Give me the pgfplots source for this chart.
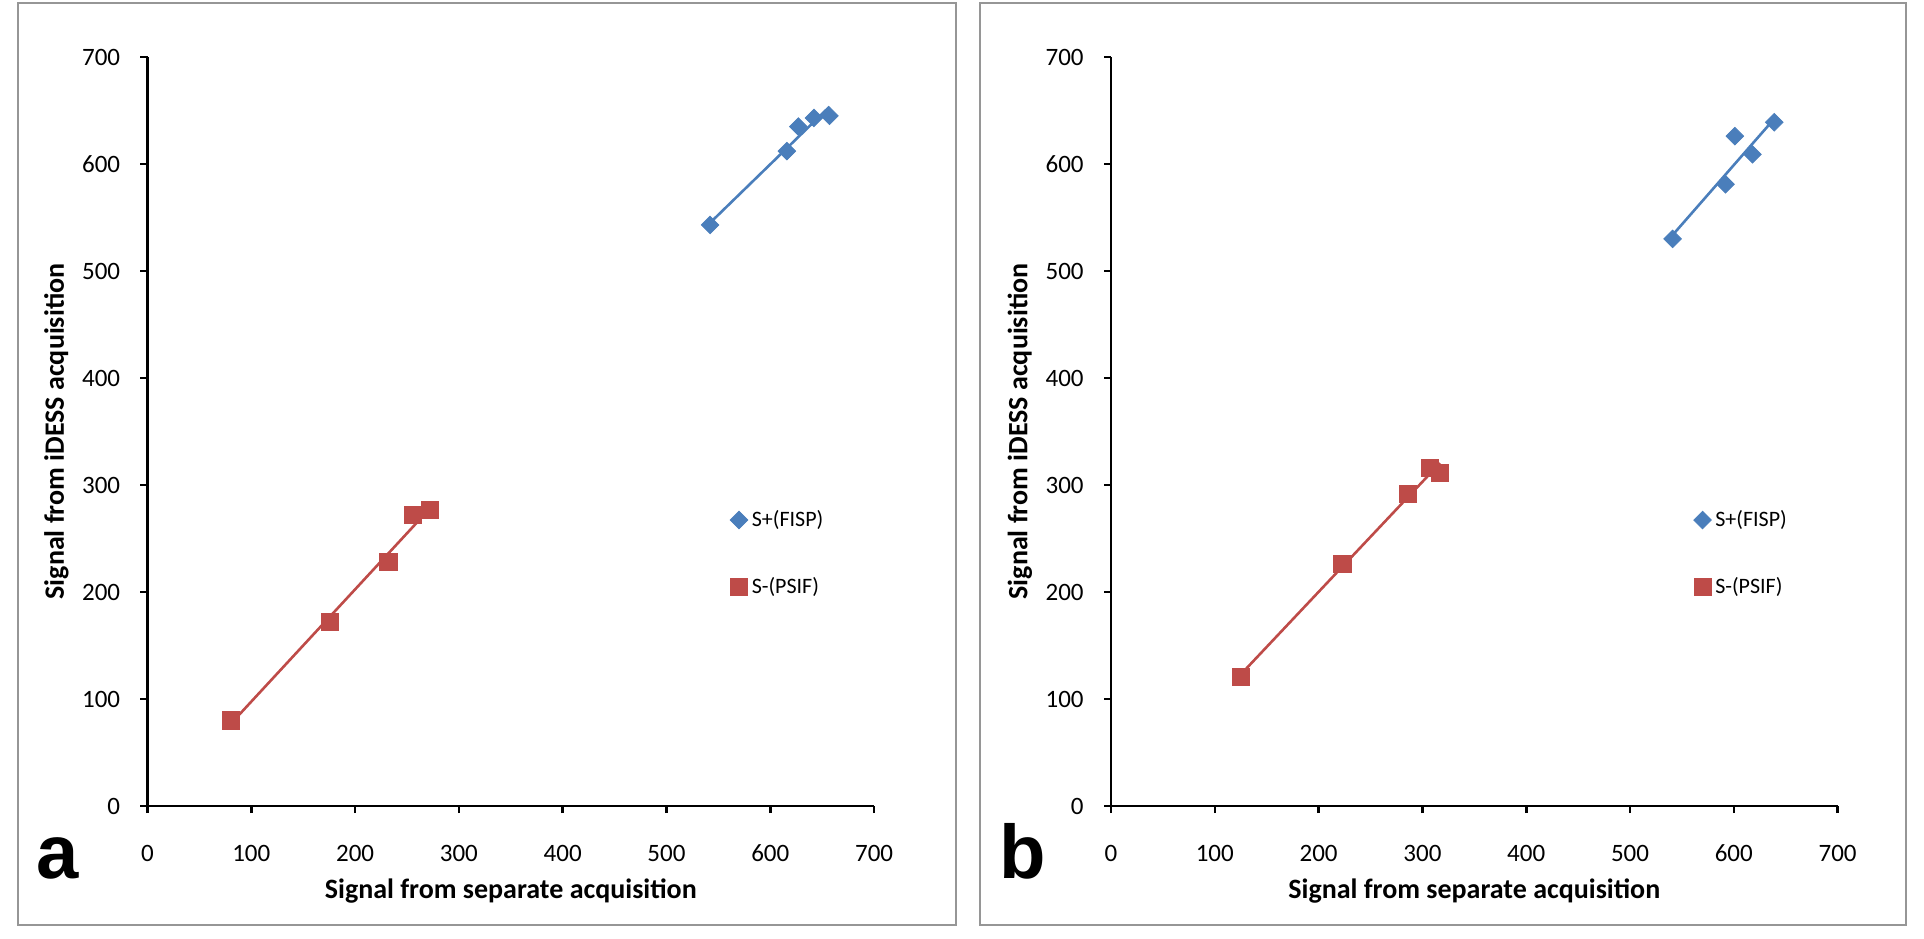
\documentclass[border=0pt]{standalone}
\usepackage{pgfplots}
\usepackage{pgfplotstable}
\pgfplotsset{compat=1.18}
\usepackage{fontspec}
\setmainfont{Carlito}
\newfontfamily\arialfont{Liberation Sans}

\definecolor{framegray}{RGB}{150,150,150}
\definecolor{fispblue}{RGB}{74,126,187}
\definecolor{psifred}{RGB}{190,75,72}

% panel a
\pgfplotstableread{
X Y
542 543
616 612
627 635
642 643
657 645
}\aplus
\pgfplotstableread{
X Y
80 80
176 172
232 228
256 272
272 277
}\aminus
% panel b
\pgfplotstableread{
X Y
541 530
592 581
601 626
618 609
639 639
}\bplus
\pgfplotstableread{
X Y
125 121
223 226
286 292
307 316
317 311
}\bminus

\pgfplotsset{
  panel/.style={
    anchor=south west,
    x=0.519pt, y=0.535pt,
    xmin=0, xmax=700, ymin=0, ymax=700,
    axis lines*=left,
    axis line style={black, line width=1.3pt},
    xtick={0,100,...,700}, ytick={0,100,...,700},
    tick align=outside, major tick length=3.5pt,
    every tick/.style={black, line width=1.3pt},
    /pgf/number format/assume math mode=true,
    ticklabel style={font=\fontsize{12.5}{14}\selectfont, inner sep=0pt},
    xticklabel style={anchor=center, yshift=-20pt},
    yticklabel style={anchor=east, xshift=-10pt},
    xlabel={Signal from separate acquisition},
    ylabel={Signal from iDESS acquisition},
    every axis x label/.style={at={(axis description cs:0.5,0)}, yshift=-42.5pt,
      anchor=center, font=\fontsize{14}{16}\selectfont\bfseries},
    every axis y label/.style={at={(axis description cs:0,0.5)}, xshift=-45.5pt,
      rotate=90, anchor=center, font=\fontsize{14}{16}\selectfont\bfseries},
    clip=false,
    legend style={at={(0.796,0.337)}, anchor=west, draw=none, fill=none,
      font=\fontsize{11}{13}\selectfont, row sep=20pt, inner sep=2pt},
    legend cell align=left,
    legend image code/.code={\draw[##1] plot coordinates {(0.25cm,0cm)};},
  },
  fitline/.style={line width=1.3pt, no markers, forget plot},
  plusmarks/.style={only marks, mark=square*, mark size=3.1pt,
    mark options={rotate=45, fill=fispblue, draw=fispblue}, color=fispblue},
  minusmarks/.style={only marks, mark=square*, mark size=4.3pt,
    mark options={fill=psifred, draw=psifred}, color=psifred},
}

\begin{document}
\begin{tikzpicture}
\useasboundingbox (0,0) rectangle (962pt,469pt);
\draw[framegray, line width=1pt] (9pt,6.5pt) rectangle (478pt,467.5pt);
\draw[framegray, line width=1pt] (490pt,6.5pt) rectangle (953pt,467.5pt);

\begin{axis}[panel, at={(73.75pt,66pt)}]
  \addplot[fitline, fispblue] table[x=X, y={create col/linear regression={y=Y}}] {\aplus};
  \addplot[fitline, psifred] table[x=X, y={create col/linear regression={y=Y}}] {\aminus};
  \addplot[plusmarks] table[x=X, y=Y] {\aplus};
  \addlegendentry{S+(FISP)}
  \addplot[minusmarks] table[x=X, y=Y] {\aminus};
  \addlegendentry{S-(PSIF)}
\end{axis}

\begin{axis}[panel, at={(555.5pt,66pt)}]
  \addplot[fitline, fispblue] table[x=X, y={create col/linear regression={y=Y}}] {\bplus};
  \addplot[fitline, psifred] table[x=X, y={create col/linear regression={y=Y}}] {\bminus};
  \addplot[plusmarks] table[x=X, y=Y] {\bplus};
  \addlegendentry{S+(FISP)}
  \addplot[minusmarks] table[x=X, y=Y] {\bminus};
  \addlegendentry{S-(PSIF)}
\end{axis}

\node[anchor=base] at (28.75pt,30pt) {\arialfont\fontsize{38}{38}\selectfont\bfseries a};
\node[anchor=base] at (511.5pt,30pt) {\arialfont\fontsize{38}{38}\selectfont\bfseries b};
\end{tikzpicture}
\end{document}
